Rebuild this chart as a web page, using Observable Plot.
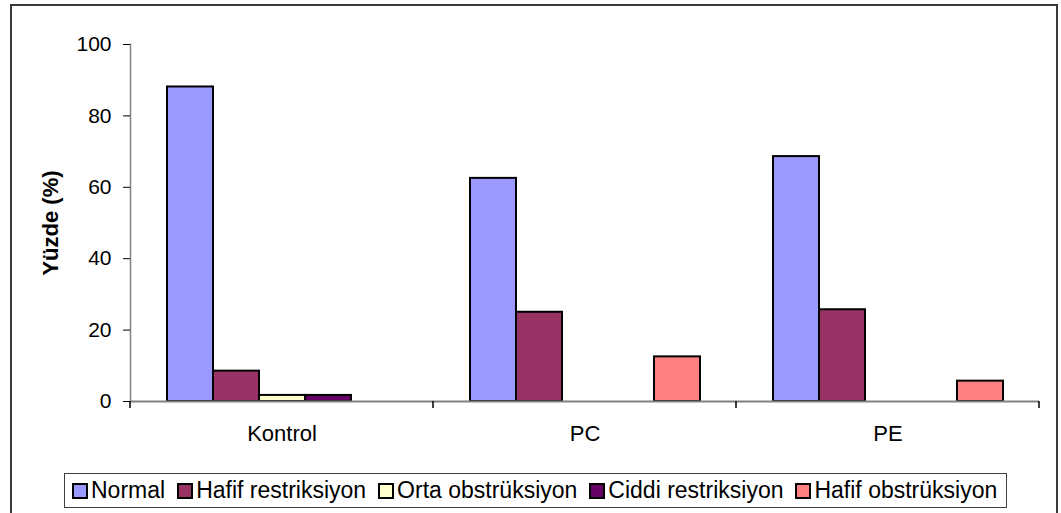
<!DOCTYPE html>
<html>
<head>
<meta charset="utf-8">
<script src="https://cdn.jsdelivr.net/npm/d3@7"></script>
<script src="https://cdn.jsdelivr.net/npm/@observablehq/plot@0.6"></script>
<style>
  html, body { margin: 0; padding: 0; background: #fff; }
  #wrap { position: relative; width: 1061px; height: 513px; overflow: hidden; font-family: "Liberation Sans", Arial, sans-serif; }
  #frame { position: absolute; left: 10px; top: 4px; width: 1044px; height: 600px; border: 2px solid #3a3a3a; }
  #chart { position: absolute; left: 0; top: 0; }
  #legend { position: absolute; left: 64px; top: 473px; height: 33px; border: 1px solid #404040; background: #fff;
            display: flex; align-items: center; padding: 0 9px 0 7px; font-size: 23px; color: #000; white-space: nowrap; }
  #legend .item { display: flex; align-items: center; margin-right: 12px; }
  #legend .item:last-child { margin-right: 0; }
  #legend .sw { width: 12px; height: 12px; border: 2px solid #000; margin-right: 3px; }
</style>
</head>
<body>
<div id="wrap">
  <div id="frame"></div>
  <div id="chart"></div>
  <div id="legend"></div>
</div>
<script>
// ---- data ----
const groups = ["Kontrol", "PC", "PE"];
const series = ["Normal", "Hafif restriksiyon", "Orta obstrüksiyon", "Ciddi restriksiyon", "Hafif obstrüksiyon"];
const seriesColors = ["#9999FF", "#993366", "#FFFFCC", "#660066", "#FF8080"];
const kontrolValues = [88.1, 8.5, 1.7, 1.7, 0];
const pcValues = [62.5, 25.0, 0, 0, 12.5];
const peValues = [68.6, 25.7, 0, 0, 5.7];
const yTicks = [0, 20, 40, 60, 80, 100];
const yLabel = "Yüzde (%)";

const groupValues = [kontrolValues, pcValues, peValues];
const table = groups.flatMap((g, i) =>
  series.map((s, j) => ({ group: g, series: s, value: groupValues[i][j] }))
).filter(d => d.value > 0);

const FONT = "Liberation Sans, Arial, sans-serif";

const chart = Plot.plot({
  width: 1061,
  height: 450,
  marginLeft: 130,
  marginRight: 22,
  marginTop: 44,
  marginBottom: 49,
  style: { fontFamily: FONT, background: "transparent", color: "#000", overflow: "visible" },
  fx: { domain: groups, padding: 0, label: null, axis: null },
  x: { domain: series, paddingInner: 0, paddingOuter: 0.75, axis: null },
  y: { domain: [0, 100], label: null },
  color: { domain: series, range: seriesColors },
  marks: [
    Plot.barY(table, { fx: "group", x: "series", y: "value", fill: "series", stroke: "#000", strokeWidth: 2 }),
    Plot.ruleY([0], { stroke: "#808080", strokeWidth: 2 }),
    Plot.frame({ anchor: "left", facet: "super", stroke: "#808080", strokeWidth: 1.5 }),
    Plot.axisY({ ticks: yTicks, tickSize: 7, tickPadding: 12, fontSize: 21, stroke: "#000",
                 label: yLabel, labelAnchor: "center", labelArrow: "none", labelOffset: 88 }),
    Plot.axisFx({ anchor: "bottom", tickSize: 0, tickPadding: 24, fontSize: 22, label: null })
  ]
});
document.getElementById("chart").appendChild(chart);

// bold y label
d3.select(chart).selectAll("g[aria-label='y-axis label'] text")
  .style("font-weight", "bold").style("font-size", "22px");

// group separator ticks on the x axis, from the library's fx and y scales
const fx = chart.scale("fx");
const ySc = chart.scale("y");
const y0 = ySc.apply(0);
const edges = groups.map(g => fx.apply(g)).concat([fx.apply(groups[groups.length - 1]) + fx.bandwidth]);
d3.select(chart).append("g").attr("aria-label", "group ticks")
  .selectAll("line").data(edges).join("line")
  .attr("x1", d => d).attr("x2", d => d)
  .attr("y1", y0).attr("y2", y0 + 7)
  .attr("stroke", "#000").attr("stroke-width", 1.5);

// legend
const legend = d3.select("#legend");
series.forEach((s, i) => {
  const it = legend.append("div").attr("class", "item");
  it.append("div").attr("class", "sw").style("background", seriesColors[i]);
  it.append("span").text(s);
});
</script>
</body>
</html>
